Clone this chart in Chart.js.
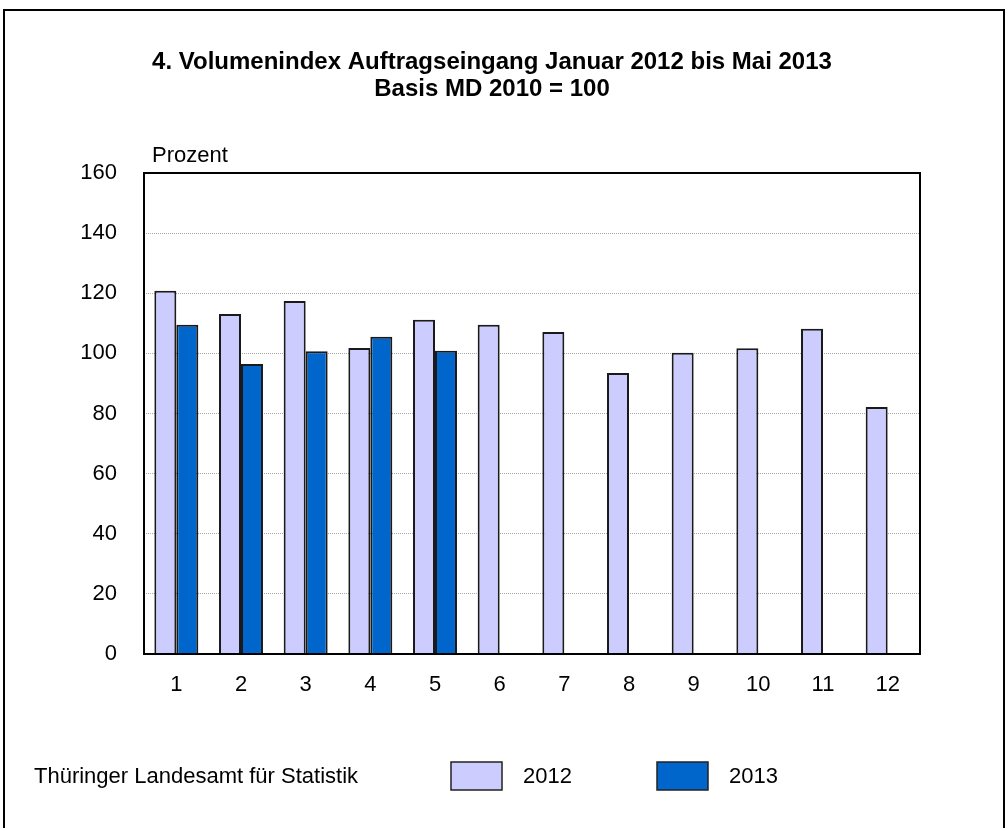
<!DOCTYPE html>
<html>
<head>
<meta charset="utf-8">
<script src="https://cdn.jsdelivr.net/npm/chart.js@4/dist/chart.umd.min.js"></script>
<style>
  html, body { margin: 0; padding: 0; background: #fff; }
  #wrap { width: 1008px; height: 828px; }
</style>
</head>
<body>
<div id="wrap"><canvas id="canvas" width="1008" height="828"></canvas></div>
<script>
// ---------- data ----------
const months = ['1', '2', '3', '4', '5', '6', '7', '8', '9', '10', '11', '12']
const values2012 = [120.8, 113.1, 117.4, 101.8, 111.2, 109.5, 107.1, 93.5, 100.2, 101.7, 108.2, 82.2]
const values2013 = [109.5, 96.5, 100.7, 105.5, 100.9]
const seriesNames = ['2012', '2013']
const titleLines = ['4. Volumenindex Auftragseingang Januar 2012 bis Mai 2013', 'Basis MD 2010 = 100']
const unitLabel = 'Prozent'
const sourceText = 'Thüringer Landesamt für Statistik'

const FONT = '"Liberation Sans", Arial, sans-serif'

// ---------- frame, title, plot border and legend drawn on the canvas ----------
const decorations = {
  id: 'decorations',
  beforeDraw(chart) {
    const ctx = chart.ctx
    ctx.save()
    ctx.fillStyle = '#fff'
    ctx.fillRect(0, 0, chart.width, chart.height)
    ctx.strokeStyle = '#000'
    ctx.lineWidth = 2
    ctx.strokeRect(4, 10, 1000, 840)

    ctx.fillStyle = '#000'
    ctx.textAlign = 'center'
    ctx.textBaseline = 'middle'
    ctx.font = 'bold 24px ' + FONT
    ctx.fillText(titleLines[0], 492, 62)
    ctx.fillText(titleLines[1], 492, 89)

    ctx.textAlign = 'left'
    ctx.font = '22px ' + FONT
    ctx.fillText(unitLabel, 152, 156)
    ctx.restore()
  },
  afterDatasetsDraw(chart) {
    const ctx = chart.ctx
    const a = chart.chartArea
    ctx.save()
    ctx.strokeStyle = '#000'
    ctx.lineWidth = 2
    ctx.strokeRect(a.left, a.top, a.right - a.left, a.bottom - a.top)

    // footer: source + legend
    ctx.fillStyle = '#000'
    ctx.textBaseline = 'middle'
    ctx.textAlign = 'left'
    ctx.font = '22px ' + FONT
    ctx.fillText(sourceText, 34, 777)

    const boxX = [451, 657]
    chart.data.datasets.forEach((ds, i) => {
      ctx.fillStyle = ds.backgroundColor
      ctx.fillRect(boxX[i], 762, 51, 28)
      ctx.strokeStyle = '#222'
      ctx.lineWidth = 1.5
      ctx.strokeRect(boxX[i], 762, 51, 28)
      ctx.fillStyle = '#000'
      ctx.fillText(ds.label, boxX[i] + 72, 777)
    })
    ctx.restore()
  }
}

new Chart(document.getElementById('canvas').getContext('2d'), {
  type: 'bar',
  data: {
    labels: months,
    datasets: [{
      label: seriesNames[0],
      data: values2012,
      backgroundColor: '#ccccff',
      borderColor: '#1a1a1a',
      borderWidth: 2,
      borderSkipped: 'bottom'
    }, {
      label: seriesNames[1],
      data: values2013,
      backgroundColor: '#0066cc',
      borderColor: '#1a1a1a',
      borderWidth: 2,
      borderSkipped: 'bottom'
    }]
  },
  options: {
    responsive: false,
    animation: false,
    layout: { padding: { top: 173, right: 88, bottom: 124, left: 0 } },
    datasets: { bar: { categoryPercentage: 0.68, barPercentage: 1.0 } },
    plugins: {
      legend: { display: false },
      tooltip: { enabled: false }
    },
    scales: {
      x: {
        afterFit(scale) { scale.height = 50 },
        grid: { display: false, drawTicks: false },
        border: { display: false },
        ticks: { color: '#000', padding: 18, font: { family: FONT, size: 22 } }
      },
      y: {
        min: 0,
        max: 160,
        afterFit(scale) { scale.width = 144 },
        grid: { color: '#a8a8a8', lineWidth: 1, drawTicks: false },
        border: { display: false, dash: [1, 1] },
        ticks: { stepSize: 20, color: '#000', padding: 27, font: { family: FONT, size: 22 } }
      }
    }
  },
  plugins: [decorations]
})
</script>
</body>
</html>
